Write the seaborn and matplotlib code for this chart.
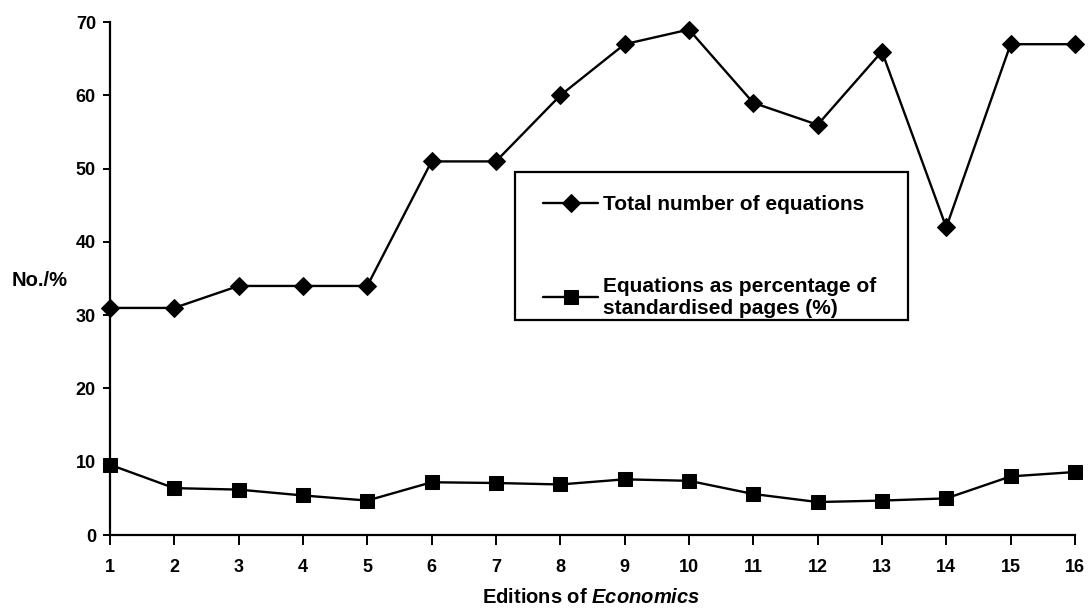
import matplotlib
matplotlib.use("Agg")
import matplotlib.pyplot as plt
from matplotlib.patches import Rectangle
import seaborn as sns
import pandas as pd

editions = list(range(1, 17))
total_equations = [31, 31, 34, 34, 34, 51, 51, 60, 67, 69, 59, 56, 66, 42, 67, 67]
pct_equations = [9.6, 6.4, 6.2, 5.4, 4.7, 7.2, 7.1, 6.9, 7.6, 7.4, 5.6, 4.5, 4.7, 5.0, 8.0, 8.6]
label_total = "Total number of equations"
label_pct = "Equations as percentage of\nstandardised pages (%)"

sns.set_theme(style="white")
plt.rcParams['font.family'] = ['Liberation Sans', 'DejaVu Sans']
plt.rcParams['font.weight'] = 'bold'
plt.rcParams['text.color'] = 'black'
plt.rcParams['mathtext.fontset'] = 'custom'
plt.rcParams['mathtext.it'] = 'Liberation Sans:italic:bold'
plt.rcParams['mathtext.rm'] = 'Liberation Sans:bold'

fig = plt.figure(figsize=(10.88, 6.09), dpi=100)
ax = fig.add_axes([0.101, 0.1215, 0.887, 0.842])

df1 = pd.DataFrame({"x": editions, "y": total_equations})
df2 = pd.DataFrame({"x": editions, "y": pct_equations})
sns.lineplot(data=df1, x="x", y="y", ax=ax, color="black", lw=1.7,
             marker="D", markersize=9, markeredgecolor="black", label=label_total,
             clip_on=False)
sns.lineplot(data=df2, x="x", y="y", ax=ax, color="black", lw=1.7,
             marker="s", markersize=10.5, markeredgecolor="black", label=label_pct,
             clip_on=False)

ax.set_xlim(1, 16)
ax.set_ylim(0, 70)
ax.set_xticks(editions)
ax.set_yticks(range(0, 71, 10))
for s in ["top", "right"]:
    ax.spines[s].set_visible(False)
for s in ["left", "bottom"]:
    ax.spines[s].set_color("black")
    ax.spines[s].set_linewidth(1.6)
ax.tick_params(axis="both", which="both", direction="out", width=1.4,
               color="black", labelsize=13, labelcolor="black",
               bottom=True, left=True)
ax.tick_params(axis="x", length=7, pad=10)
ax.tick_params(axis="y", length=5, pad=5)
for lbl in ax.get_xticklabels() + ax.get_yticklabels():
    lbl.set_fontweight("bold")

ax.set_ylabel("")
ax.set_xlabel("")
fig.text(0.011, 0.540, "No./%", fontsize=14.5, fontweight="bold", ha="left", va="center")
fig.text(0.543, 0.019, r"Editions of $\mathit{Economics}$", fontsize=14.5, fontweight="bold",
         ha="center", va="center")

# legend box frame
ax.add_patch(Rectangle((0.4197, 0.4191), 0.827 - 0.4197, 0.7076 - 0.4191,
                       transform=ax.transAxes, facecolor="white", edgecolor="black",
                       linewidth=1.6, zorder=4, clip_on=False))
leg = ax.legend(loc="upper left", bbox_to_anchor=(0.4487, 0.6628), frameon=False,
                labelspacing=3.0, handlelength=2.65, handletextpad=0.24,
                borderpad=0, borderaxespad=0,
                prop={"weight": "bold", "size": 15})
leg.set_zorder(5)
for t in leg.get_texts():
    t.set_color("black")

fig.savefig("out.png", dpi=100)
